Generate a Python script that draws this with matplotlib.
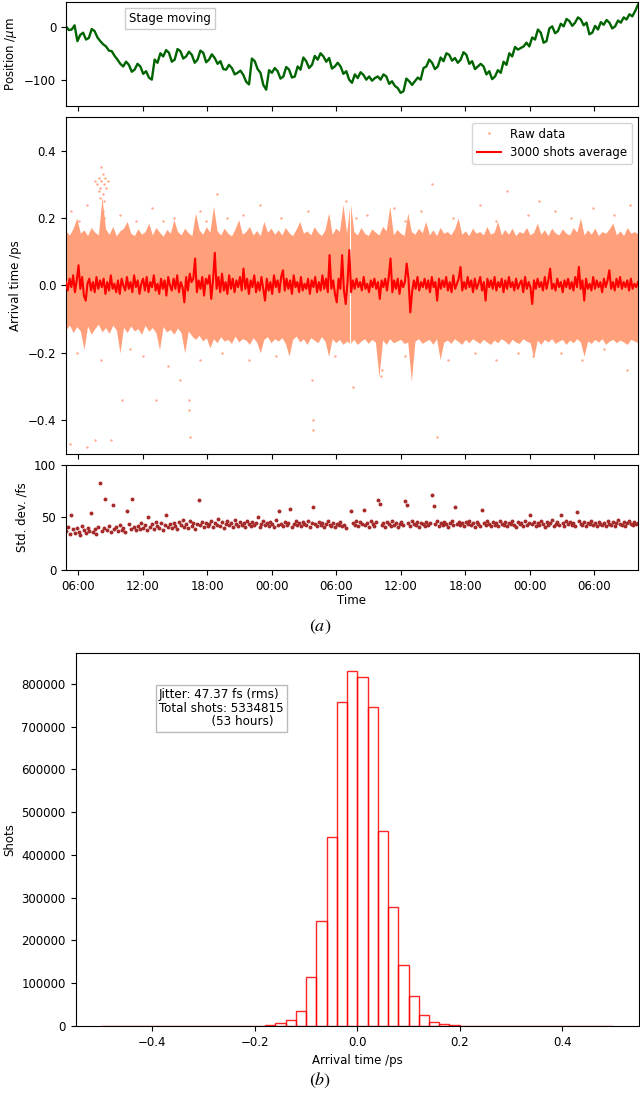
import datetime
import numpy as np
import matplotlib
matplotlib.use("Agg")
import matplotlib.pyplot as plt
import matplotlib.dates as mdates
from matplotlib.lines import Line2D

plt.rcParams["font.family"] = ["DejaVu Sans"]
plt.rcParams["font.size"] = 8.5
plt.rcParams["mathtext.fontset"] = "dejavusans"

# ---------------- data ----------------
start_time = datetime.datetime(2019, 1, 1, 4, 52)
duration_hours = 53.2
data_gap_hours = 26.41

# stage position (um), uniformly sampled over the run
position_um = [1,-6,-5,3,-27,-15,-11,-24,-21,-4,-8,-20,-27,-33,-37,-45,-46,-55,-62,-70,
               -75,-66,-72,-85,-81,-70,-75,-89,-84,-96,-100,-62,-68,-50,-56,-44,-49,-66,-62,-42,
               -46,-60,-56,-47,-53,-68,-62,-45,-49,-67,-62,-52,-59,-70,-65,-80,-81,-72,-78,-90,
               -87,-83,-91,-104,-109,-60,-65,-80,-87,-110,-119,-82,-87,-78,-84,-98,-94,-76,-81,-96,
               -94,-75,-81,-58,-65,-78,-72,-55,-62,-50,-56,-66,-59,-79,-75,-68,-75,-89,-84,-100,
               -106,-90,-97,-86,-91,-100,-94,-102,-97,-94,-100,-90,-94,-108,-103,-112,-116,-125,-122,-98,
               -103,-110,-103,-96,-100,-78,-75,-62,-68,-80,-75,-58,-65,-50,-53,-64,-59,-68,-62,-48,
               -53,-70,-65,-80,-75,-70,-75,-90,-84,-99,-94,-82,-87,-66,-72,-50,-56,-38,-43,-40,
               -37,-30,-37,-20,-24,-5,-11,-30,-27,-3,1,-12,-8,6,1,15,11,2,8,18,
               14,3,8,-14,-11,2,-5,9,4,13,8,-3,1,12,8,18,14,24,20,30,42]

# 3000-shot average of arrival time (fs)
average_fs = [10,-15,20,-5,30,-20,15,60,-10,25,-30,-45,5,20,-15,10,-20,25,-10,15,
              -5,20,-25,10,-15,30,-10,5,-20,15,-25,20,0,-15,25,-10,10,-20,30,-5,
              15,-25,5,20,-15,25,-20,10,-5,30,-15,5,-25,20,-10,15,-30,25,0,-15,
              20,-10,30,-20,10,-5,-50,25,-15,35,10,20,80,-20,15,-10,25,-30,20,5,
              30,-40,15,97,-10,25,-20,35,-15,10,-25,30,-10,20,-20,15,-5,25,-15,50,
              -10,20,-25,15,-5,30,-20,10,-15,25,-10,-45,20,-15,10,-25,30,-5,15,-20,
              25,45,-15,20,-10,15,-25,30,-5,10,-20,25,-15,5,-10,20,-25,15,-5,25,
              -20,10,-15,30,-10,20,-20,90,-10,15,-25,-50,20,-10,90,-15,-55,10,105,-20,
              15,-10,20,-5,10,-15,25,-10,5,-20,15,-5,20,-10,10,-40,15,-5,20,-15,
              25,80,-20,15,-10,20,-25,15,-5,10,65,20,-80,-20,15,-10,25,-15,10,-5,
              20,-10,15,-20,25,-5,10,-45,20,-10,15,-5,25,-15,10,-20,30,-10,5,20,
              55,-15,10,-10,25,-5,15,-20,20,-10,5,25,-15,10,-45,20,-5,15,-10,25,
              -15,10,-5,20,-20,15,-10,25,-5,10,-15,20,-10,5,15,-20,25,-10,10,-5,
              -55,15,-10,20,-5,10,-15,25,-10,15,50,-10,5,-15,20,-5,10,-20,15,-5,
              20,-10,10,-15,25,-5,55,-10,15,-45,20,-10,5,-15,25,-10,15,-5,10,-20,
              20,-5,15,45,-10,10,-15,20,-5,25,-10,10,-5,15,-15,20,-10,5,-5,10]

# upper / lower envelope of the dense raw-data cloud (fs)
raw_upper_fs = [160,150,170,200,155,165,148,172,158,150,260,168,152,175,147,162,170,190,155,148,
                168,152,160,185,150,172,158,146,166,155,195,160,150,170,156,148,215,165,152,174,
                158,235,162,150,170,155,147,168,195,152,160,175,150,163,148,190,158,170,152,165,
                150,172,156,148,168,190,155,162,150,174,158,148,165,215,152,170,160,240,155,250,
                160,150,172,155,148,168,158,150,175,162,235,150,166,155,148,215,160,152,170,156,
                190,150,165,148,172,155,160,150,168,200,152,162,148,170,155,160,150,175,152,158,
                190,150,166,152,170,148,160,155,172,150,158,185,152,165,148,170,156,150,168,155,
                150,172,158,200,150,165,152,170,148,160,155,168,185,150,162,148,172,155,160,152]
raw_lower_fs = [-130,-118,-140,-122,-135,-190,-120,-145,-128,-115,-138,-125,-142,-118,-132,-200,-124,-140,-120,-135,
                -128,-145,-118,-136,-125,-140,-190,-122,-138,-130,-145,-126,-140,-200,-135,-150,-160,-148,-165,-155,
                -185,-158,-170,-152,-165,-160,-172,-150,-168,-158,-162,-175,-155,-168,-200,-160,-152,-170,-158,-165,
                -155,-172,-210,-160,-150,-168,-158,-175,-155,-162,-170,-152,-165,-210,-158,-170,-160,-175,-165,-172,
                -160,-175,-165,-158,-172,-160,-168,-270,-162,-175,-158,-170,-165,-160,-172,-168,-285,-165,-158,-172,
                -165,-160,-175,-158,-220,-168,-162,-172,-158,-166,-175,-160,-170,-158,-165,-172,-160,-168,-175,-162,
                -170,-158,-165,-175,-160,-168,-172,-158,-165,-170,-215,-162,-175,-160,-168,-158,-172,-165,-160,-175,
                -162,-170,-158,-168,-210,-165,-172,-160,-168,-158,-175,-165,-160,-170,-162,-168,-175,-160,-165,-170]

# sparse raw-data shots outside the dense cloud: (hours, ps)
raw_outliers = [(2.9,0.30),(3.1,0.32),(3.2,0.29),(3.3,0.31),(3.4,0.33),(3.5,0.30),(3.6,0.32),(3.1,0.28),
                (3.7,0.29),(3.3,0.35),(3.4,0.27),(3.5,0.25),(3.4,0.22),(3.5,0.20),(2.7,0.31),(3.9,0.31),
                (3.2,0.26),(0.5,0.22),(1.2,0.19),(2.0,0.24),(5.0,0.21),(6.5,0.19),(8.0,0.23),(10.0,0.20),
                (12.5,0.22),(14.0,0.27),(13.0,0.19),(16.5,0.21),(18.0,0.24),(20.0,0.20),(22.5,0.22),
                (24.5,0.19),(26.0,0.25),(28.0,0.21),(30.5,0.23),(33.0,0.22),(34.0,0.30),(36.0,0.20),
                (38.5,0.24),(41.0,0.28),(43.0,0.21),(45.5,0.22),(47.0,0.20),(49.0,0.23),(51.0,0.21),
                (52.5,0.24),(27.0,0.20),(31.5,0.19),(9.0,0.19),(15.0,0.20),(40.0,0.19),(44.0,0.25),
                (0.4,-0.47),(1.0,-0.20),(2.7,-0.46),(3.3,-0.22),(4.2,-0.46),(5.2,-0.34),(6.0,-0.19),
                (7.2,-0.21),(8.4,-0.34),(10.6,-0.28),(11.4,-0.34),(11.4,-0.37),(11.5,-0.45),(12.5,-0.22),
                (14.5,-0.20),(17.0,-0.22),(22.9,-0.28),(23.0,-0.40),(23.0,-0.43),(19.5,-0.21),(25.0,-0.21),
                (26.7,-0.30),(29.3,-0.27),(29.4,-0.25),(31.5,-0.21),(34.5,-0.45),(35.5,-0.22),(38.0,-0.20),
                (40.0,-0.22),(42.0,-0.20),(43.4,-0.21),(46.0,-0.20),(48.0,-0.22),(50.0,-0.19),(52.2,-0.25),
                (2.0,-0.48),(9.5,-0.24)]

# standard deviation per 3000 shots (fs); nan = no data
nan = float("nan")
std_fs = [37,41,34,52,39,35,40,36,33,42,38,35,40,37,54,36,39,34,41,83,
          37,40,68,38,42,36,62,39,41,37,43,38,40,36,56,44,39,68,41,38,
          42,39,45,40,43,38,50,41,44,39,46,42,40,45,38,43,52,41,44,40,
          45,42,39,46,43,48,41,44,40,47,42,45,39,44,67,43,46,41,45,42,
          44,47,41,45,43,49,42,46,40,44,47,43,45,41,48,44,42,46,43,45,
          41,47,44,42,46,43,45,50,41,44,47,43,45,42,46,44,41,48,43,56,
          44,42,46,43,45,58,41,44,47,43,45,42,46,44,43,47,41,45,60,44,
          42,46,43,45,41,44,47,43,42,45,41,44,43,46,42,43,40,nan,nan,56,
          45,43,47,42,46,44,57,43,45,41,47,44,42,46,67,63,43,45,41,46,
          44,42,47,43,45,41,44,46,43,66,62,45,42,47,44,43,46,41,45,44,
          42,46,43,45,71,61,44,47,42,45,43,46,44,41,45,47,43,60,44,46,
          43,45,42,46,44,47,43,45,41,46,44,42,57,45,43,47,44,42,46,43,
          45,42,47,44,43,46,42,45,44,47,43,41,46,44,45,42,47,43,45,52,
          44,46,42,45,43,47,44,41,46,43,45,48,42,44,46,43,52,45,42,47,
          44,46,43,45,42,55,47,44,43,46,42,45,44,47,43,45,42,46,44,43,
          45,42,47,44,43,46,42,45,48,44,43,46,42,45,47,44,43,46,44,45]

# histogram of arrival times (ps): 50 bins of 0.02 ps from -0.5 to 0.5
hist_range_ps = (-0.5, 0.5)
hist_counts = [30,20,25,35,40,45,50,60,70,90,110,140,190,260,380,
               700,2300,7000,15000,35100,114800,245200,441200,758800,830700,
               815900,745700,456700,278700,142900,71200,25800,9400,4000,1600,
               300,180,120,90,70,60,50,40,35,30,25,20,20,15,10]
jitter_text = "Jitter: 47.37 fs (rms)\nTotal shots: 5334815\n              (53 hours)"

# ---------------- helpers ----------------
t0 = mdates.date2num(start_time)


def hours_to_dates(n):
    return t0 + np.linspace(0, duration_hours, n) / 24.0


# ---------------- figure ----------------
fig = plt.figure(figsize=(6.4, 11), dpi=100)
L, W = 0.1031, 0.8938
ax1 = fig.add_axes([L, 0.9036, W, 0.0945])
ax2 = fig.add_axes([L, 0.5873, W, 0.3064], sharex=ax1)
ax3 = fig.add_axes([L, 0.4818, W, 0.0955], sharex=ax1)
ax4 = fig.add_axes([0.118, 0.0673, 0.8805, 0.339])

salmon = "#FFA07A"

# position panel
ax1.plot(hours_to_dates(len(position_um)), position_um, color="darkgreen", lw=1.7)
ax1.set_ylim(-150, 47)
ax1.set_yticks([-100, 0])
ax1.set_ylabel(r"Position /$\mu$m")
ax1.text(0.182, 0.845, "Stage moving", transform=ax1.transAxes, ha="center", va="center",
         fontsize=8.5, bbox=dict(boxstyle="square,pad=0.35", fc="white", ec="#cccccc"))
ax1.tick_params(labelbottom=False)

# arrival time panel
t_env = hours_to_dates(len(raw_upper_fs))
ax2.fill_between(t_env, np.array(raw_lower_fs) / 1000.0, np.array(raw_upper_fs) / 1000.0,
                 color=salmon, lw=0, zorder=1)
ot = t0 + np.array([p[0] for p in raw_outliers]) / 24.0
ov = np.array([p[1] for p in raw_outliers])
ax2.plot(ot, ov, ".", color=salmon, ms=1.6, alpha=0.8, zorder=1)
ax2.axvline(t0 + data_gap_hours / 24.0, color="white", lw=0.8, zorder=2)
ax2.plot(hours_to_dates(len(average_fs)), np.array(average_fs) / 1000.0, color="red", lw=1.5, zorder=3)
ax2.set_ylim(-0.5, 0.5)
ax2.set_yticks([-0.4, -0.2, 0.0, 0.2, 0.4])
ax2.set_ylabel("Arrival time /ps")
ax2.tick_params(labelbottom=False)
handles = [Line2D([], [], ls="none", marker=".", ms=1.5, color=salmon),
           Line2D([], [], color="red", lw=1.5)]
ax2.legend(handles, ["Raw data", "3000 shots average"], loc="upper right", fontsize=8.5)

# std dev panel
ax3.scatter(hours_to_dates(len(std_fs)), std_fs, s=8, color="brown", lw=0)
ax3.set_ylim(0, 100)
ax3.set_yticks([0, 50, 100])
ax3.set_ylabel("Std. dev. /fs")
ax3.set_xlabel("Time", labelpad=1)
ax3.set_xlim(t0, t0 + duration_hours / 24.0)
ax3.xaxis.set_major_locator(mdates.HourLocator(byhour=[0, 6, 12, 18]))
ax3.xaxis.set_major_formatter(mdates.DateFormatter("%H:%M"))

# histogram
edges = np.linspace(hist_range_ps[0], hist_range_ps[1], len(hist_counts) + 1)
ax4.bar(edges[:-1], hist_counts, width=np.diff(edges), align="edge", fill=False,
        edgecolor="red", lw=1.0, alpha=0.85)
ax4.set_xlabel("Arrival time /ps")
ax4.set_ylabel("Shots")
ax4.text(0.148, 0.905, jitter_text, transform=ax4.transAxes, ha="left", va="top",
         fontsize=9.5, fontstretch="condensed", linespacing=1.05,
         bbox=dict(boxstyle="square,pad=0.25", fc="white", ec="#bbbbbb"))

# panel captions
fig.text(0.5, 0.430, r"$(a)$", ha="center", va="center", fontsize=13, math_fontfamily="stix")
fig.text(0.5, 0.018, r"$(b)$", ha="center", va="center", fontsize=13, math_fontfamily="stix")

fig.savefig("out.png", dpi=100)
